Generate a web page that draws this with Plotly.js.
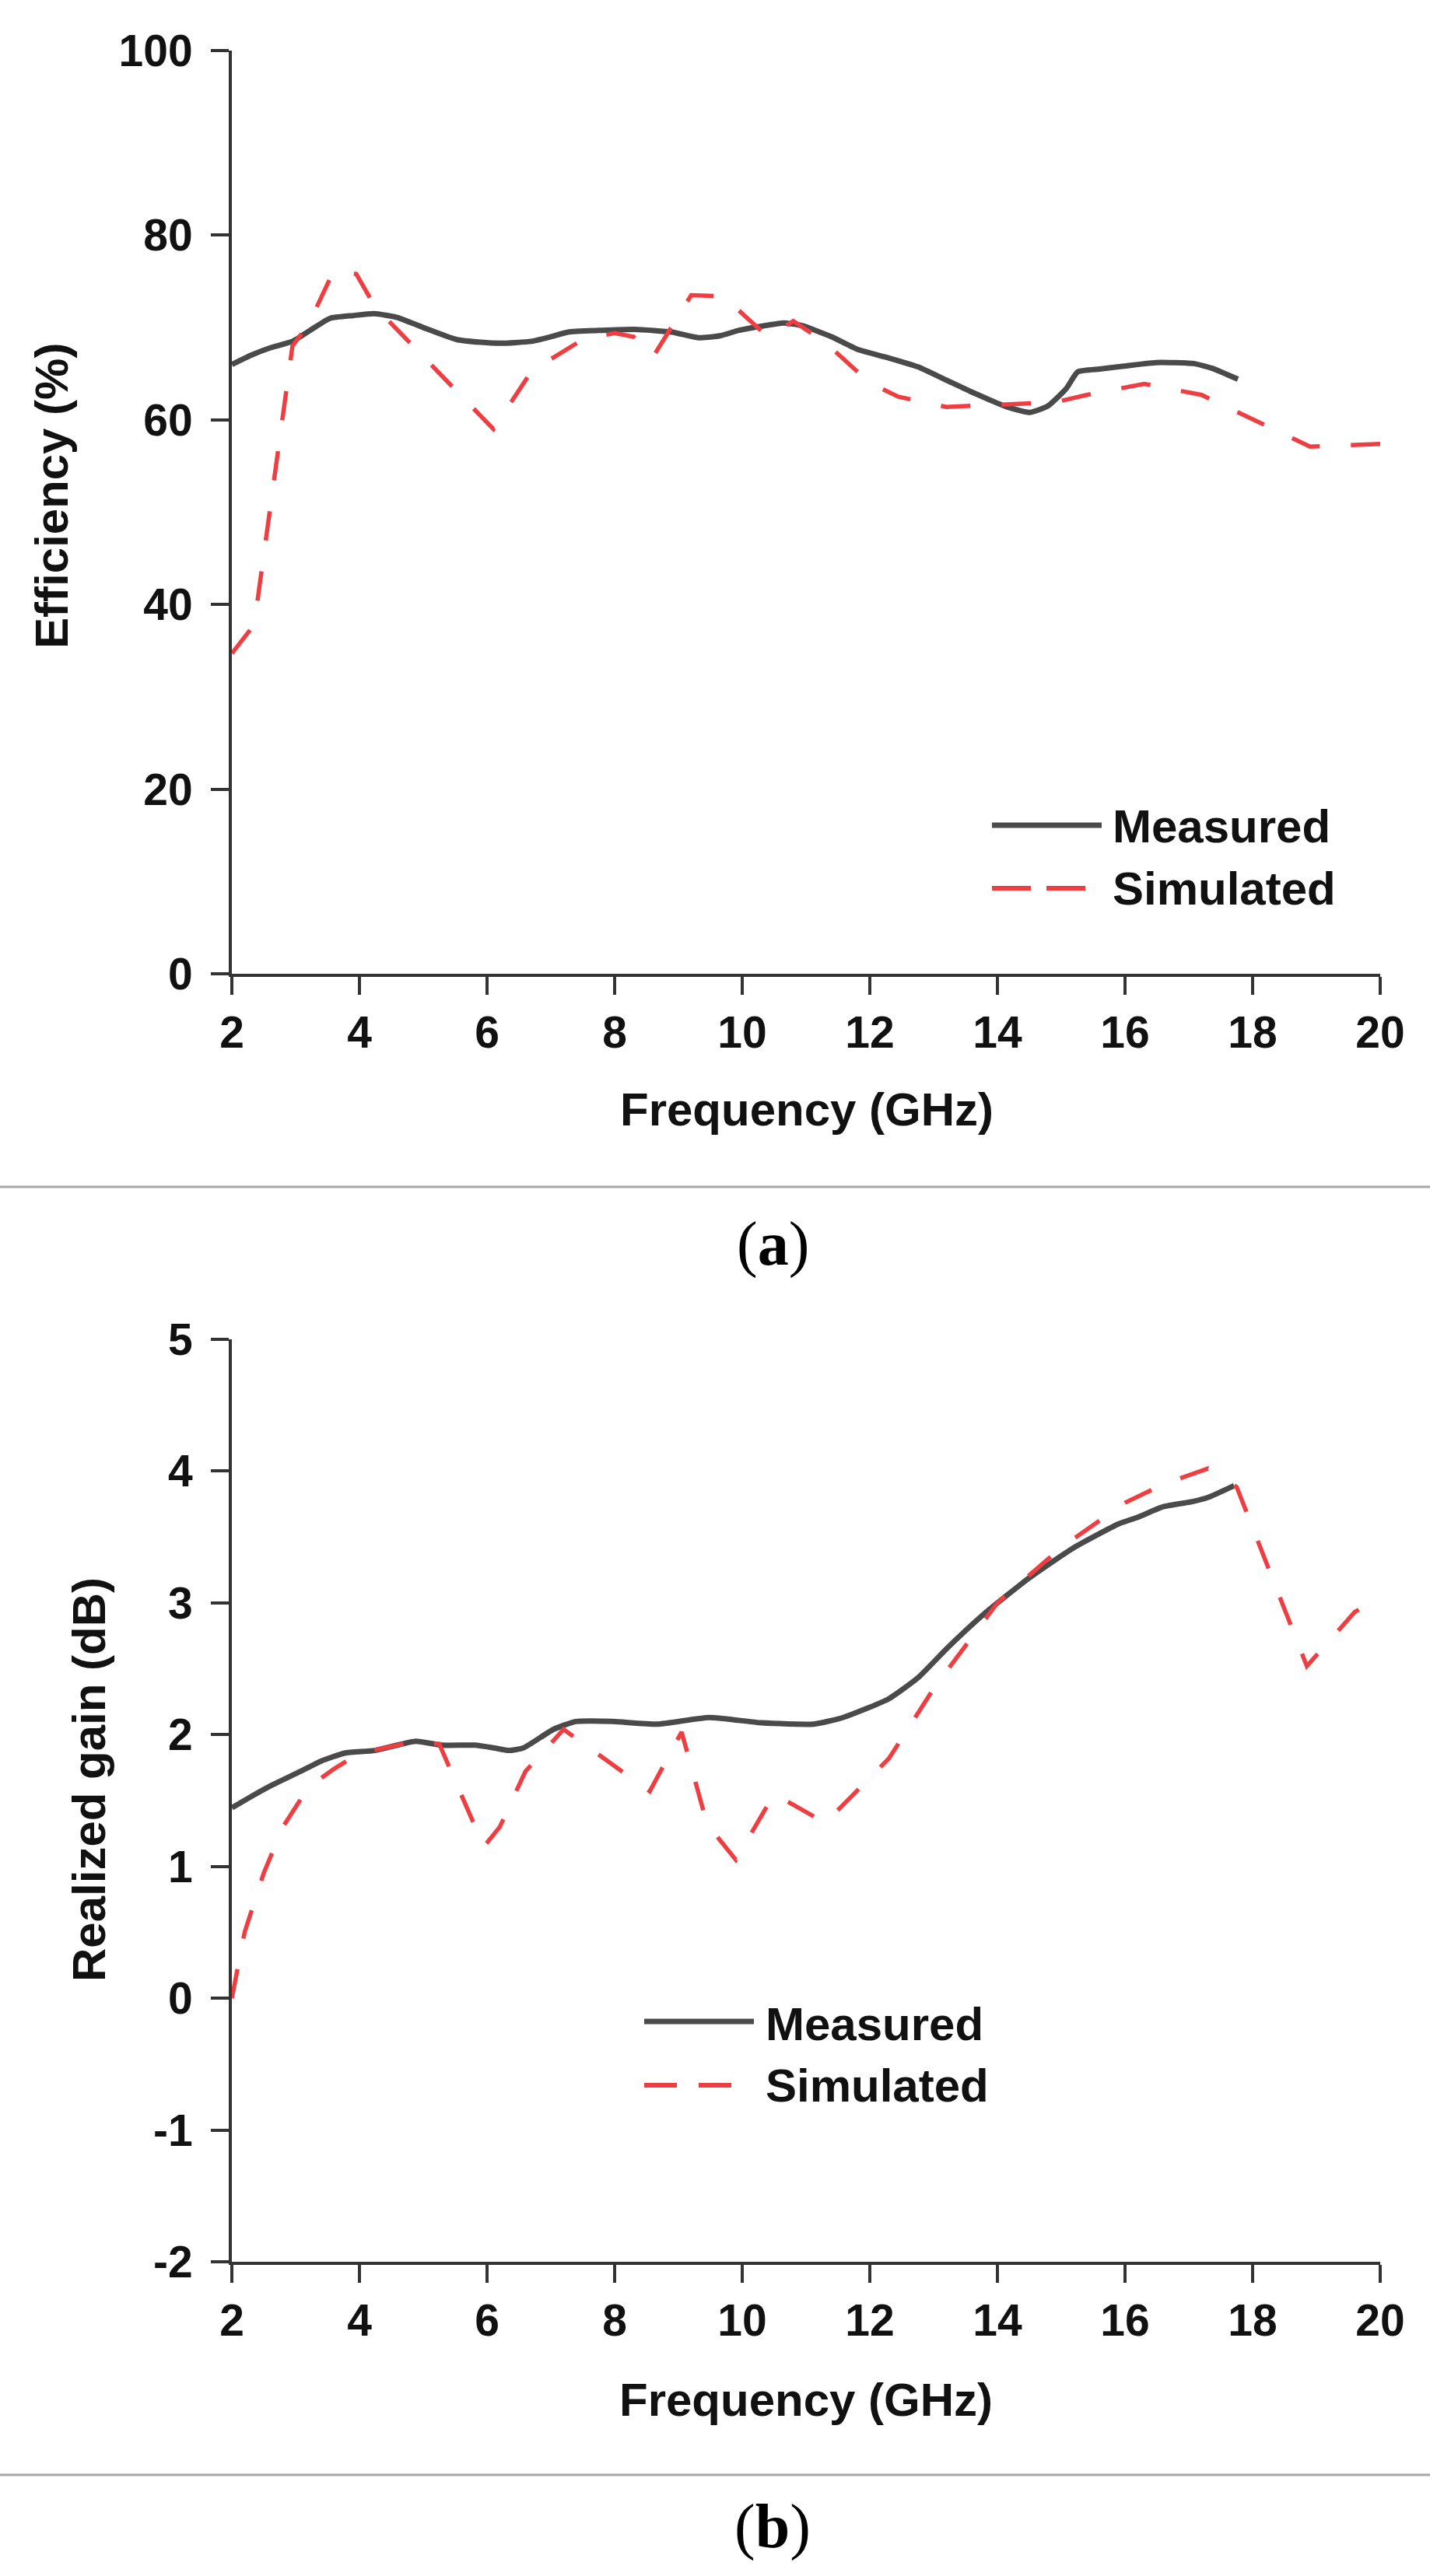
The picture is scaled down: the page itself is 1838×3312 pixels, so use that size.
<!DOCTYPE html>
<html>
<head>
<meta charset="utf-8">
<script src="https://cdn.plot.ly/plotly-3.0.1.min.js"></script>
<style>
  html, body { margin: 0; padding: 0; background: #fff; }
  #chart { width: 1838px; height: 3312px; }
</style>
</head>
<body>
<div id="chart"></div>
<script>
// (a) efficiency, measured and simulated
const effMeasFreq = [2.0, 2.3, 2.6, 2.95, 3.25, 3.54, 3.9, 4.23, 4.59, 5.0, 5.52, 5.9, 6.22, 6.69, 7.0, 7.27, 7.8, 8.32, 8.9, 9.31, 9.65, 9.95, 10.35, 10.65, 10.94, 11.4, 11.82, 12.3, 12.75, 13.2, 13.57, 14.15, 14.5, 14.79, 15.08, 15.26, 15.6, 15.9, 16.48, 17.07, 17.36, 17.77];
const effMeas = [66.0, 67.0, 67.8, 68.5, 69.8, 71.0, 71.3, 71.5, 71.1, 70.0, 68.7, 68.4, 68.3, 68.5, 69.0, 69.5, 69.7, 69.8, 69.5, 68.9, 69.1, 69.7, 70.2, 70.5, 70.2, 69.0, 67.6, 66.7, 65.75, 64.3, 63.1, 61.4, 60.8, 61.5, 63.4, 65.2, 65.5, 65.75, 66.2, 66.1, 65.6, 64.4];
const effSimFreq = [2.0, 2.35, 2.95, 3.2, 3.6, 3.95, 4.25, 6.1, 6.7, 7.5, 8.0, 8.3, 8.6, 9.2, 9.7, 10.4, 10.8, 11.3, 12.0, 12.45, 13.2, 14.0, 14.9, 15.4, 16.3, 17.2, 18.9, 20.0];
const effSim = [34.7, 37.8, 68.0, 70.3, 76.2, 75.8, 72.2, 59.0, 65.3, 68.7, 69.4, 69.0, 66.8, 73.5, 73.4, 69.0, 70.7, 68.4, 64.0, 62.5, 61.4, 61.6, 61.9, 62.7, 63.9, 62.7, 57.1, 57.4];

// (b) realized gain, measured and simulated
const gainMeasFreq = [2.0, 2.3, 2.6, 3.07, 3.4, 3.77, 4.24, 4.88, 5.29, 5.81, 6.1, 6.34, 6.57, 7.04, 7.39, 7.97, 8.67, 9.48, 10.3, 11.12, 11.58, 12.29, 12.75, 13.22, 13.8, 14.5, 15.2, 15.9, 16.2, 16.6, 17.07, 17.3, 17.71];
const gainMeas = [1.445, 1.53, 1.61, 1.72, 1.8, 1.86, 1.88, 1.95, 1.92, 1.92, 1.9, 1.88, 1.9, 2.04, 2.10, 2.10, 2.08, 2.13, 2.09, 2.08, 2.13, 2.27, 2.43, 2.66, 2.92, 3.19, 3.42, 3.60, 3.65, 3.73, 3.77, 3.80, 3.89];
const gainSimFreq = [2.0, 2.2, 2.5, 2.8, 3.2, 3.6, 4.0, 4.5, 4.9, 5.25, 5.95, 6.2, 6.6, 7.2, 8.55, 9.05, 9.45, 9.9, 10.5, 11.3, 11.9, 12.3, 13.0, 14.0, 15.0, 16.0, 16.6, 17.3, 17.75, 18.85, 19.6, 20.0];
const gainSim = [0.0, 0.5, 0.95, 1.3, 1.6, 1.74, 1.86, 1.91, 1.95, 1.93, 1.15, 1.3, 1.72, 2.04, 1.57, 2.02, 1.32, 1.05, 1.55, 1.33, 1.62, 1.82, 2.35, 3.0, 3.42, 3.76, 3.9, 4.02, 3.88, 2.52, 2.93, 3.05];

const freqTicks = [2, 4, 6, 8, 10, 12, 14, 16, 18, 20];
const effTicks = [0, 20, 40, 60, 80, 100];
const gainTicks = [-2, -1, 0, 1, 2, 3, 4, 5];
const gainTickText = ["-2", "-1", "0", "1", "2", "3", "4", "5"];

const W = 1838;
const H = 3312;
const MEAS_COLOR = "#4a4a4a";
const SIM_COLOR = "#ef3e42";
const AXIS_COLOR = "#333333";
const SANS = "Liberation Sans, Arial, sans-serif";

// pixel -> paper fraction
const px = (x) => x / W;
const py = (y) => 1 - y / H;

function axisStyle(extra) {
  return {
    showline: true,
    linewidth: 4,
    linecolor: AXIS_COLOR,
    ticks: "outside",
    ticklen: 23,
    tickwidth: 4,
    tickcolor: AXIS_COLOR,
    showgrid: false,
    zeroline: false,
    fixedrange: true,
    tickfont: { family: SANS, size: 57, color: "#111", weight: "bold" },
    ...extra,
  };
}

function measTrace(x, y, xa, ya) {
  return {
    type: "scatter", mode: "lines", name: "Measured", x, y, xaxis: xa, yaxis: ya,
    line: { color: MEAS_COLOR, width: 7, shape: "spline", smoothing: 0.5 },
  };
}

function simTrace(x, y, xa, ya) {
  return {
    type: "scatter", mode: "lines", name: "Simulated", x, y, xaxis: xa, yaxis: ya,
    line: { color: SIM_COLOR, width: 5.5, dash: "38px,40px" },
  };
}

function label(x, y, text, opts) {
  return {
    xref: "paper", yref: "paper", x: px(x), y: py(y), text, showarrow: false,
    xanchor: "center", yanchor: "middle",
    font: { family: SANS, size: 60, color: "#111", weight: "bold" },
    ...opts,
  };
}

function hline(x0, x1, y, color, width, dash) {
  return {
    type: "line", xref: "paper", yref: "paper",
    x0: px(x0), x1: px(x1), y0: py(y), y1: py(y),
    line: { color, width, dash: dash || "solid" },
  };
}

const xDomain = [px(298), px(1774)];

const data = [
  measTrace(effMeasFreq, effMeas, "x", "y"),
  simTrace(effSimFreq, effSim, "x", "y"),
  measTrace(gainMeasFreq, gainMeas, "x2", "y2"),
  simTrace(gainSimFreq, gainSim, "x2", "y2"),
];

const layout = {
  width: W,
  height: H,
  margin: { l: 0, r: 0, t: 0, b: 0 },
  paper_bgcolor: "#fff",
  plot_bgcolor: "#fff",
  showlegend: false,
  xaxis: axisStyle({ domain: xDomain, range: [2, 20], tickvals: freqTicks, anchor: "y" }),
  yaxis: axisStyle({ domain: [py(1252), py(65)], range: [0, 100], tickvals: effTicks, anchor: "x", ticklabelstandoff: 12 }),
  xaxis2: axisStyle({ domain: xDomain, range: [2, 20], tickvals: freqTicks, anchor: "y2" }),
  yaxis2: axisStyle({ domain: [py(2908), py(1722)], range: [-2, 5], tickvals: gainTicks, ticktext: gainTickText, anchor: "x2", ticklabelstandoff: 12 }),
  shapes: [
    // legend samples
    hline(1275, 1416, 1061, MEAS_COLOR, 7),
    hline(1275, 1395, 1142, SIM_COLOR, 6, "50px,20px"),
    hline(828, 969, 2599, MEAS_COLOR, 7),
    hline(828, 945, 2681, SIM_COLOR, 6, "42px,28px"),
    // panel separators
    hline(0, W, 1526, "#a6a6a6", 3),
    hline(0, W, 3182, "#a6a6a6", 3),
  ],
  annotations: [
    label(67, 638, "Efficiency (%)", { textangle: -90 }),
    label(1037, 1426, "Frequency (GHz)"),
    label(1428, 1062, "Measured", { xanchor: "left" }),
    label(1428, 1142, "Simulated", { xanchor: "left" }),
    label(114, 2288, "Realized gain (dB)", { textangle: -90 }),
    label(1036, 3085, "Frequency (GHz)"),
    label(982, 2602, "Measured", { xanchor: "left" }),
    label(982, 2681, "Simulated", { xanchor: "left" }),
    label(994, 1600, "(<b>a</b>)", { font: { family: "Liberation Serif, serif", size: 80, color: "#000" } }),
    label(993, 3248, "(<b>b</b>)", { font: { family: "Liberation Serif, serif", size: 80, color: "#000" } }),
  ],
};

Plotly.newPlot("chart", data, layout, { displayModeBar: false, staticPlot: true });
</script>
</body>
</html>
